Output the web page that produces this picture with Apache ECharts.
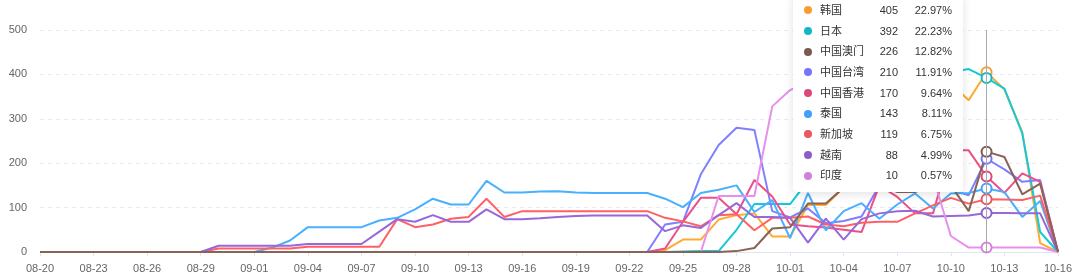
<!DOCTYPE html>
<html>
<head>
<meta charset="utf-8">
<script src="https://cdn.jsdelivr.net/npm/echarts@6/dist/echarts.min.js"></script>
<style>
html,body{margin:0;padding:0;background:#fff;overflow:hidden;}
#chart{width:1080px;height:280px;}
</style>
</head>
<body>
<div id="chart"></div>
<script>
const categories = ['08-20','08-21','08-22','08-23','08-24','08-25','08-26','08-27','08-28','08-29','08-30','08-31',
'09-01','09-02','09-03','09-04','09-05','09-06','09-07','09-08','09-09','09-10','09-11','09-12','09-13','09-14','09-15',
'09-16','09-17','09-18','09-19','09-20','09-21','09-22','09-23','09-24','09-25','09-26','09-27','09-28','09-29','09-30',
'10-01','10-02','10-03','10-04','10-05','10-06','10-07','10-08','10-09','10-10','10-11','10-12','10-13','10-14','10-15','10-16'];

const yTicks = [0, 100, 200, 300, 400, 500];

const korea    = [0,0,0,0,0,0,0,0,0,0,0,0, 0,0,0,0,0,0,0,0,0,0,0,0,0,0,0, 0,0,0,0,0,0,0,0,4,28,28,73,83,87,35, 35,106,106,145,190,240,285,325,360,380,342,405,366,270,20,0];
const japan    = [0,0,0,0,0,0,0,0,0,0,0,0, 0,0,0,0,0,0,0,0,0,0,0,0,0,0,0, 0,0,0,0,0,0,0,0,0,1,2,2,50,108,108, 108,160,200,240,280,310,340,370,395,405,412,392,368,267,45,0];
const macau    = [0,0,0,0,0,0,0,0,0,0,0,0, 0,0,0,0,0,0,0,0,0,0,0,0,0,0,0, 0,0,0,0,0,0,0,0,0,0,0,0,2,9,53, 56,109,109,145,160,150,135,135,150,150,92,226,214,130,154,0];
const taiwan   = [0,0,0,0,0,0,0,0,0,0,0,0, 0,0,0,0,0,0,0,0,0,0,0,0,0,0,0, 0,0,0,0,0,0,0,0,62,68,175,241,280,275,92, 78,98,65,70,80,150,175,165,150,140,128,210,186,158,162,0];
const hongkong = [0,0,0,0,0,0,0,0,0,0,0,0, 0,0,0,0,0,0,0,0,0,0,0,0,0,0,0, 0,0,0,0,0,0,0,0,8,68,122,122,85,162,125, 62,58,55,50,45,150,124,87,87,229,229,170,133,177,158,0];
const thailand = [0,0,0,0,0,0,0,0,0,0,0,0, 0,10,26,56,56,56,56,71,77,96,120,107,107,160,134, 134,136,137,134,133,133,133,133,120,101,133,140,150,90,117, 31,133,49,92,110,75,107,132,98,132,133,143,135,79,115,0];
const singapore= [0,0,0,0,0,0,0,0,0,0,8,8, 8,8,8,12,12,12,12,12,74,56,62,75,79,120,79, 92,92,92,92,92,92,92,92,77,69,58,83,85,49,77, 77,80,62,58,66,68,68,87,105,122,109,119,118,117,127,0];
const vietnam  = [0,0,0,0,0,0,0,0,0,0,14,14, 14,14,14,18,18,18,18,46,74,68,83,68,68,96,74, 74,76,79,81,82,82,82,82,47,60,54,83,110,79,79, 77,21,75,28,74,87,92,93,80,81,82,88,88,87,87,0];
const india    = [0,0,0,0,0,0,0,0,0,0,0,0, 0,0,0,0,0,0,0,0,0,0,0,0,0,0,0, 0,0,0,0,0,0,0,0,0,0,0,126,126,126,328, 365,380,370,350,330,300,260,220,170,36,10,10,10,10,10,0];

const seriesNames = ['韩国','日本','中国台湾','中国香港','泰国','新加坡','越南','印度','中国澳门'];
const seriesData  = [korea, japan, taiwan, hongkong, thailand, singapore, vietnam, india, macau];
const seriesColors= ['#fa9c2f','#13b8c6','#7474fb','#d9487a','#41a0fb','#e8585d','#8b5ec7','#d282d8','#7d5a4f'];

const chart = echarts.init(document.getElementById('chart'), null, {renderer:'canvas'});

const option = {
  animation: false,
  grid: {left: 40, right: 22, top: 30, bottom: 28},
  tooltip: {
    trigger: 'axis',
    alwaysShowContent: true,
    transitionDuration: 0,
    position: [793, -6],
    backgroundColor: '#fff',
    borderWidth: 0,
    borderRadius: 4,
    padding: [6, 11],
    extraCssText: 'box-shadow:0 2px 10px rgba(0,0,0,0.12);',
    axisPointer: {type: 'line', lineStyle: {color: '#aaaaaa', width: 1, type: 'solid'}},
    formatter: function (params) {
      const total = params.reduce((s, p) => s + (p.value || 0), 0);
      const sorted = params.slice().sort((a, b) => b.value - a.value);
      return sorted.map(p => {
        const pct = total ? (p.value / total * 100).toFixed(2) + '%' : '0.00%';
        return '<div style="display:flex;align-items:center;height:20.67px;line-height:20.67px;font-size:11px;color:#333;font-family:\'Liberation Sans\',\'Noto Sans CJK SC\',sans-serif;">' +
          '<span style="display:inline-block;width:8px;height:8px;border-radius:50%;background:' + p.color + ';margin-right:8px;"></span>' +
          '<span style="display:inline-block;width:50px;">' + p.seriesName + '</span>' +
          '<span style="display:inline-block;width:28px;text-align:right;">' + p.value + '</span>' +
          '<span style="display:inline-block;width:54px;text-align:right;">' + pct + '</span>' +
          '</div>';
      }).join('');
    }
  },
  xAxis: {
    type: 'category',
    data: categories,
    boundaryGap: false,
    axisLine: {lineStyle: {color: '#e0e6f1'}},
    axisTick: {show: true, interval: 2, length: 4, lineStyle: {color: '#e0e6f1'}},
    axisLabel: {interval: 2, color: '#666', fontSize: 11, margin: 11, fontFamily: 'Liberation Sans'}
  },
  yAxis: {
    type: 'value',
    min: yTicks[0],
    max: yTicks[yTicks.length - 1],
    interval: yTicks[1] - yTicks[0],
    axisLine: {show: false},
    axisTick: {show: false},
    axisLabel: {color: '#666', fontSize: 11, margin: 13, fontFamily: 'Liberation Sans'},
    splitLine: {lineStyle: {color: '#e6e9f0', type: [4, 4]}}
  },
  series: seriesNames.map((name, i) => ({
    name: name,
    type: 'line',
    data: seriesData[i],
    showSymbol: false,
    symbol: 'emptyCircle',
    symbolSize: 10,
    color: seriesColors[i],
    lineStyle: {width: 2},
    itemStyle: {borderWidth: 1},
    emphasis: {scale: false, lineStyle: {width: 2}}
  }))
};
chart.setOption(option);
chart.dispatchAction({type: 'showTip', seriesIndex: 0, dataIndex: 53});
setTimeout(function () { chart.dispatchAction({type: 'showTip', seriesIndex: 0, dataIndex: 53}); }, 50);
</script>
</body>
</html>
